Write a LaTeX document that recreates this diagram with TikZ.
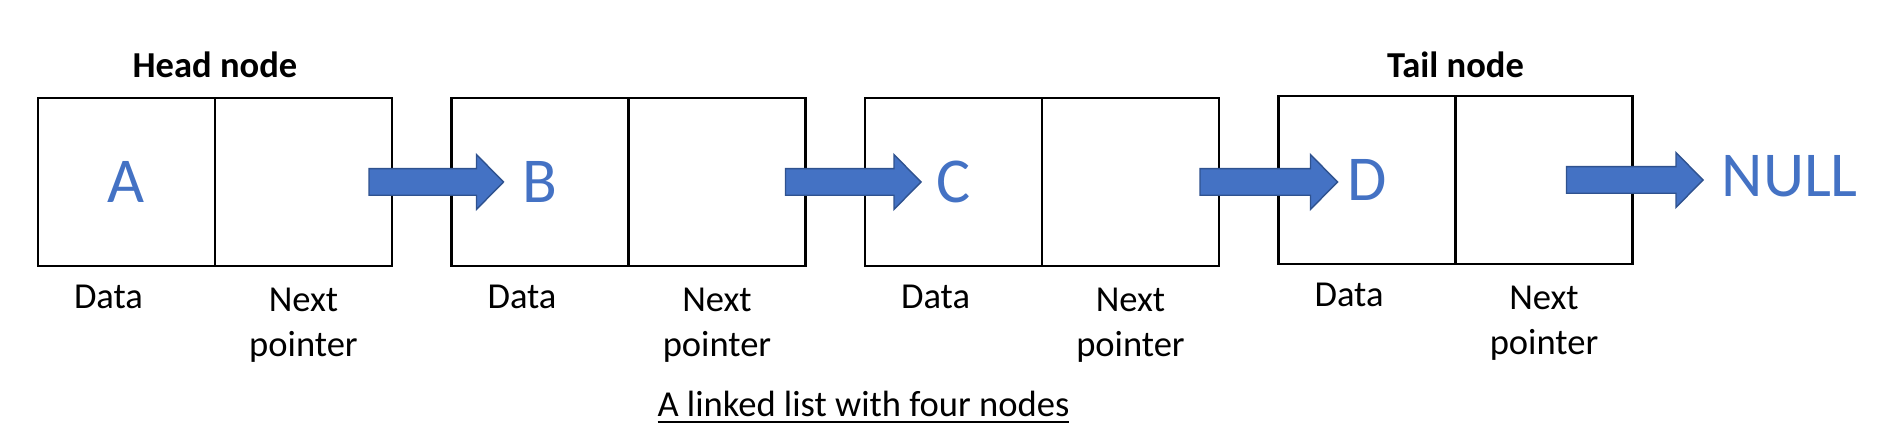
\documentclass[tikz,border=0pt]{standalone}
\usepackage{fontspec}
\setmainfont{Carlito}
\usepackage{tikz}
\usetikzlibrary{calc}
\definecolor{listblue}{HTML}{4472C4}
\definecolor{listedge}{HTML}{2F528F}
\tikzstyle{box}=[rectangle, draw=black, line width=0.6pt, minimum width=1.77cm, minimum height=1.68cm, inner sep=0pt, outer sep=0pt, anchor=center, text=listblue, font=\fontsize{18.2}{22}\selectfont]
\tikzstyle{val}=[inner sep=0pt, text=listblue, font=\fontsize{18.2}{22}\selectfont]
\tikzstyle{annot}=[align=center, font=\fontsize{10.4}{12.8}\selectfont]
\tikzstyle{ttl}=[annot, font=\fontsize{10.4}{12.8}\selectfont\bfseries, anchor=base]
\tikzstyle{barrow}=[fill=listblue, draw=listedge, line width=0.4pt]
\newcommand{\listnode}[4]
{
  \node[box](#1data) at (#2,#3){#4};
  \node[box, anchor=west](#1next) at (#1data.east){};
  \node[annot, below of=#1data, xshift=-0.18cm, node distance=1.15cm](#1datalbl) {Data};
  \node[annot, below of=#1next, node distance=1.435cm](#1nextlbl) {Next\\pointer};
}
\newcommand{\blockarrow}[2]
{
  \path[barrow] let \p1 = (#1), \p2 = (#2) in
    (\x1,\y1+0.133cm) -- (\x2-0.27cm,\y1+0.133cm) -- (\x2-0.27cm,\y1+0.274cm) -- (\x2,\y1)
    -- (\x2-0.27cm,\y1-0.274cm) -- (\x2-0.27cm,\y1-0.133cm) -- (\x1,\y1-0.133cm) -- cycle;
}

\begin{document}
\begin{tikzpicture}
	\useasboundingbox (0,0) rectangle (18.8,4.48);

	\listnode{a}{1.265}{2.66}{A}
	\listnode{b}{5.40}{2.66}{B}
	\listnode{c}{9.535}{2.66}{C}
	\listnode{d}{13.67}{2.68}{D}

	\node[val, anchor=west](null) at (17.21,2.713){NULL};

	\path let \p1 = (adata.north east) in node[ttl](headlbl) at (\x1,\y1+0.2cm){Head node};
	\path let \p1 = (ddata.north east) in node[ttl](taillbl) at (\x1,\y1+0.18cm){Tail node};

	% next pointers
	\coordinate (aout) at ($(anext.east)+(-0.23,0)$);
	\coordinate (bin) at ($(bdata.west)+(0.52,0)$);
	\coordinate (bout) at ($(bnext.east)+(-0.20,0)$);
	\coordinate (cin) at ($(cdata.west)+(0.56,0)$);
	\coordinate (cout) at ($(cnext.east)+(-0.19,0)$);
	\coordinate (din) at ($(ddata.west)+(0.59,0)$);
	\coordinate (dout) at ($(dnext.east)+(-0.66,0)$);
	\coordinate (nullin) at ($(null.west)+(-0.18,0)$);

	\blockarrow{aout}{bin}
	\blockarrow{bout}{cin}
	\blockarrow{cout}{din}
	\blockarrow{dout}{nullin}

	\node[annot, anchor=base](caption) at (8.635,0.313){\underline{A linked list with four nodes}};
\end{tikzpicture}
\end{document}
